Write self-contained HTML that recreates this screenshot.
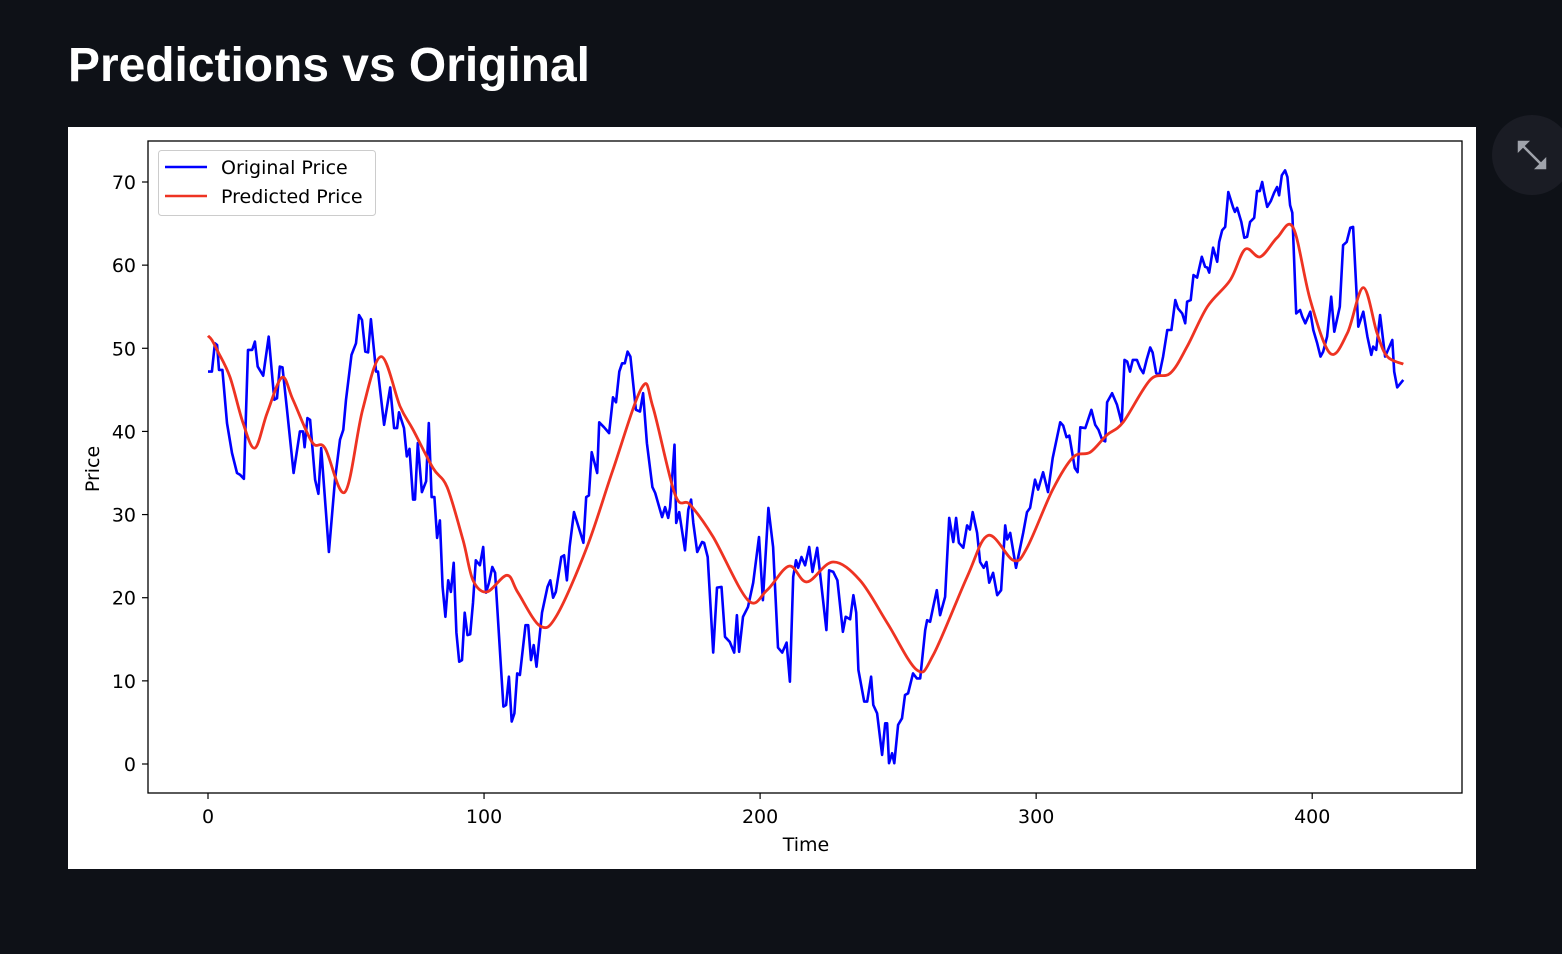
<!DOCTYPE html>
<html><head><meta charset="utf-8"><style>
html,body{margin:0;padding:0;background:#0e1117;}
svg{display:block;font-family:"DejaVu Sans","Liberation Sans",sans-serif;}
</style></head><body>
<svg id="chart" width="1562" height="954" viewBox="0 0 1562 954">
<rect x="0" y="0" width="1562" height="954" fill="#0e1117"/>
<text x="68" y="81" fill="#ffffff" font-family="'Liberation Sans',sans-serif" font-weight="bold" font-size="48" textLength="522" lengthAdjust="spacingAndGlyphs">Predictions vs Original</text>
<rect x="68" y="127" width="1408" height="742" fill="#ffffff"/>
<g>
<circle cx="1532" cy="155" r="40" fill="#1a1c24"/>
<path d="M1519 142 L1527 142 L1519 150 Z M1545 168 L1537 168 L1545 160 Z M1521 144 L1543 166" stroke="#a0a3ab" stroke-width="2.5" fill="#a0a3ab"/>
</g>
<g id="axes"></g>
</svg>
<script>
const origT=[0,1.4,2.5,3.3,4,5.2,6.9,8.7,10.5,11.6,13,14.5,16,17,18,20,22,24,25,26,27,28.6,31,33.3,34.4,35,36,37,38.8,40,41,43.8,46,47.8,49,50,52,53.6,54.7,55.8,57,58,59,60.9,61.6,63.8,66,67.4,68.5,69.2,71,72,73,74.3,75,76,77.5,79,80,81,82,83,84,85,86,87,88,89,90,91,92,93,94,95,96,97,98.5,99.7,100.7,101.8,103,104,107,108,109,110,111,112,113,115,116,117,118,119,121,123,124,125,126,128,129,130,131,132.6,136,137,138,139,141,141.7,143.5,145.3,146.7,147.8,149,150,151,152,153,155,156.5,157.6,159,161,162,164.5,165.6,166.7,167.4,169,169.6,170.7,172.8,174,175,175.8,177.2,179,179.7,181,183,184.4,186,187.3,189,190.6,191.6,192.4,193.8,195.6,197.5,199.6,201,203,204.7,206.5,208,209.6,210.8,212,213,213.8,215,216.3,217.8,219,220.7,224,225,226.5,228,230,231,232.6,233.8,234.8,235.6,237.7,238.8,240.2,241,242.4,244.2,245.3,246,246.7,247.8,248.6,250,251.4,252.5,253.6,255.4,256.8,258,259.8,260.5,261.6,262.7,264,265.2,267,268.5,270,271,272,273.6,275,276,277,278.6,279.7,281,282,283,284.4,285.9,287.3,288.8,289.5,290.6,292.7,295.3,296.7,297.8,299.6,300.7,302.5,304.3,306,308.7,309.8,311,312,314,315,316,317.8,320,321.4,322.6,323.9,325,325.7,327.5,329.3,331,332,333,334,335,336.5,337.7,338.8,340,341.3,342.2,343.5,344.6,346,347.5,349,350.4,351.4,352.9,354,354.7,356,357,358.3,360,361.2,362,362.7,364.1,365.6,366.3,367.4,368.5,369.6,371.4,372,372.8,374.3,375.4,376.4,377.5,379,380,381,381.9,382.6,383.7,385,386.2,387.3,388,389,390.2,391,392,392.8,394.2,395.6,396.4,397.5,399.3,400.4,401.8,403,404,405.4,406.9,408,410,411.2,412.5,413.8,414.8,416.7,418.5,420,421.4,422.1,423.2,424.6,426.4,429,429.7,430.8,433];
const origV=[47.2,47.2,50.6,50.4,47.4,47.4,41,37.4,35,34.8,34.3,49.8,49.8,50.8,47.8,46.7,51.4,43.8,44,47.8,47.7,42.6,35,40,40,38.1,41.6,41.4,34.2,32.5,38,25.5,34.2,39,40.2,43.8,49.2,50.6,54,53.4,49.6,49.5,53.5,47.2,47.2,40.8,45.3,40.4,40.4,42.3,40.4,37,37.9,31.8,31.8,38.6,32.7,34,41,32.1,32.1,27.2,29.3,21.3,17.7,22.1,20.7,24.2,15.8,12.3,12.5,18.2,15.5,15.6,19.4,24.5,23.9,26.1,20.6,21.8,23.7,23,6.9,7.1,10.5,5.1,6.1,10.9,10.7,16.7,16.7,12.5,14.3,11.7,18.2,21.3,22.1,20,20.7,24.9,25.1,22.1,26.1,30.3,26.6,32.1,32.3,37.5,35,41.1,40.5,39.8,44.1,43.5,47.2,48.2,48.2,49.6,49,42.6,42.4,44.6,38.6,33.3,32.6,29.7,30.9,29.6,30.9,38.4,29,30.3,25.7,30.6,31.8,29,25.5,26.7,26.6,24.9,13.4,21.2,21.3,15.3,14.7,13.4,17.9,13.5,17.7,18.9,21.8,27.3,19.7,30.8,26.1,14,13.4,14.6,9.9,22.5,24.5,23.6,24.9,23.9,26.1,23.1,26,16.1,23.3,23.1,22.1,15.9,17.7,17.4,20.3,18.2,11.3,7.5,7.5,10.5,7.1,6.1,1.1,4.9,4.9,0.1,1.3,0.1,4.7,5.5,8.3,8.5,10.9,10.3,10.3,16.1,17.3,17.1,18.9,20.9,17.9,20.1,29.6,26.7,29.6,26.6,26,28.7,28.2,30.3,27.8,24.3,23.6,24.3,21.8,23,20.3,20.9,28.7,27,27.8,23.6,27.8,30.3,30.8,34.2,33,35.1,32.7,36.8,41.1,40.7,39.3,39.5,35.6,35.1,40.5,40.4,42.6,40.8,40.2,39,38.8,43.5,44.6,43.2,41,48.6,48.4,47.2,48.6,48.6,47.6,47,48.6,50.1,49.5,47,46.8,49,52.2,52.2,55.8,54.8,54.2,53,55.6,55.8,58.8,58.5,61,59.8,59.7,59.1,62.1,60.4,62.8,64.2,64.6,68.8,66.9,66.4,66.9,65.2,63.3,63.4,65.2,65.7,68.9,68.9,70,68.7,67,67.7,68.7,69.4,68.4,70.8,71.4,70.6,67.2,66.3,54.2,54.6,53.8,53,54.4,52.2,50.6,49,49.6,51.4,56.2,52,55,62.4,62.8,64.5,64.6,52.6,54.4,51.4,49.2,50.2,49.8,54,49,51,47.2,45.3,46.2];
const predT=[0,1.4,3.6,8,12.7,17,21.4,26.8,30.8,37.7,42.4,49.6,56,62.7,69.6,74.3,81.5,86.6,92.4,96,101,108.3,112.3,120.3,126.4,137.3,146.7,157.2,161.2,169.2,174.6,183,195.6,202.5,210.5,217,226.4,236.2,246,256.8,262.7,275,282.6,291.7,296.7,306,313.4,319.6,325.7,331.5,341.3,348.6,354.7,362,370.3,375.7,381.2,387.3,393.1,399.3,406.5,412.7,418.5,423.5,427.2,433];
const predV=[51.5,51,49.6,46.5,41,38,42.2,46.5,43.8,38.7,38,32.7,42.6,49,43,40.2,35.6,33.3,26.9,22.1,20.7,22.7,20.6,16.6,17.9,26.1,35.4,45.3,42.9,32.4,31.2,27.3,19.7,20.9,23.8,21.9,24.3,22.1,17,11.3,13.1,22.5,27.5,24.5,26,33,36.9,37.5,39.6,41.1,46.2,47,50.2,55,58.2,61.9,61,63.3,64.5,55.8,49.4,51.8,57.3,51.8,49,48.1];
const xTicks=[0,100,200,300,400];
const yTicks=[0,10,20,30,40,50,60,70];

const NS='http://www.w3.org/2000/svg';
const L=148,R=1462,T=141,B=793;
const xs=t=>208+t*2.7605;
const ys=v=>764-v*8.3143;
const g=document.getElementById('axes');
function mk(tag,attrs,parent){const e=document.createElementNS(NS,tag);for(const k in attrs)e.setAttribute(k,attrs[k]);(parent||g).appendChild(e);return e;}

// ticks
xTicks.forEach(t=>{
  const gg=mk('g',{});
  
  
  mk('line',{x1:xs(t),x2:xs(t),y1:B,y2:B+6,stroke:'#000','stroke-width':1.2},gg);
  const tx=mk('text',{x:xs(t),y:B+30,'text-anchor':'middle','font-size':19,fill:'#000'},gg);
  tx.textContent=t;
});
yTicks.forEach(v=>{
  const gg=mk('g',{});
  
  
  mk('line',{x1:L-6,x2:L,y1:ys(v),y2:ys(v),stroke:'#000','stroke-width':1.2},gg);
  const tx=mk('text',{x:L-12,y:ys(v)+7,'text-anchor':'end','font-size':19,fill:'#000'},gg);
  tx.textContent=v;
});
const xl=mk('text',{x:806,y:851,'text-anchor':'middle','font-size':19,fill:'#000'});


xl.textContent='Time';
const yl=mk('text',{x:0,y:0,'text-anchor':'middle','font-size':19,fill:'#000',transform:'translate(99,469) rotate(-90)'});


yl.textContent='Price';

// series
let d='';origT.forEach((t,i)=>{d+=(i?'L':'M')+xs(t).toFixed(1)+' '+ys(origV[i]).toFixed(1);});
const bl=mk('path',{d:d,fill:'none',stroke:'#0000ff','stroke-width':2.6,'stroke-linejoin':'round'});



const P=predT.map((t,i)=>[xs(t),ys(predV[i])]);
let d2='M'+P[0][0]+' '+P[0][1];
for(let i=0;i<P.length-1;i++){
  const p0=P[Math.max(0,i-1)],p1=P[i],p2=P[i+1],p3=P[Math.min(P.length-1,i+2)];
  const c1=[p1[0]+(p2[0]-p0[0])/6,p1[1]+(p2[1]-p0[1])/6];
  const c2=[p2[0]-(p3[0]-p1[0])/6,p2[1]-(p3[1]-p1[1])/6];
  d2+='C'+c1[0].toFixed(1)+' '+c1[1].toFixed(1)+' '+c2[0].toFixed(1)+' '+c2[1].toFixed(1)+' '+p2[0].toFixed(1)+' '+p2[1].toFixed(1);
}
const rl=mk('path',{d:d2,fill:'none',stroke:'#ee3322','stroke-width':2.8});



const fr=mk('rect',{x:L,y:T,width:R-L,height:B-T,fill:'none',stroke:'#000','stroke-width':1.3});



// legend
const lg=mk('g',{});


mk('rect',{x:158.5,y:150.5,width:217,height:65,rx:3,fill:'#fff',stroke:'#cccccc','stroke-width':1},lg);
const e1=mk('g',{},lg);


mk('line',{x1:165,x2:207,y1:167,y2:167,stroke:'#0000ff','stroke-width':2.6},e1);
const t1=mk('text',{x:221,y:174,'font-size':19,fill:'#000'},e1);t1.textContent='Original Price';
const e2=mk('g',{},lg);


mk('line',{x1:165,x2:207,y1:196,y2:196,stroke:'#ee3322','stroke-width':2.6},e2);
const t2=mk('text',{x:221,y:203,'font-size':19,fill:'#000'},e2);t2.textContent='Predicted Price';
</script>
</body></html>
